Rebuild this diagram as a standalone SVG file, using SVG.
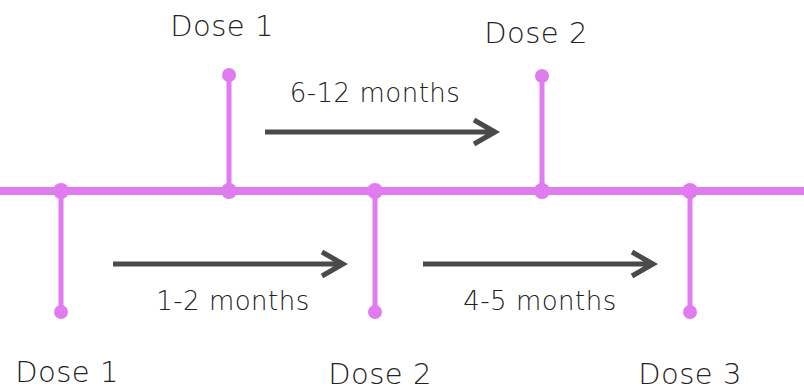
<svg xmlns="http://www.w3.org/2000/svg" width="804" height="391" viewBox="0 0 804 391">
<style>
.tl{stroke:#E07BF0;stroke-linecap:butt;fill:none}
.dot{fill:#E07BF0}
.arr{stroke:#4A4A4A;stroke-width:5;fill:none;stroke-linecap:butt;stroke-linejoin:miter}
.lbl{font-family:"DejaVu Sans","Open Sans",sans-serif;font-weight:200;fill:#222;text-anchor:middle;letter-spacing:0.5px}
.dose{font-size:29px}
.dur{font-size:26px}
</style>
<rect width="804" height="391" fill="#fff"/>
<g id="timeline">
<line class="tl" x1="0" y1="191" x2="804" y2="191" stroke-width="8"/>
</g>
<g id="dose1-top">
<line class="tl" x1="229" y1="75" x2="229" y2="191" stroke-width="5"/>
<circle class="dot" cx="229" cy="75" r="7"/><circle class="dot" cx="229" cy="191" r="8"/>
<text class="lbl dose" x="222" y="36">Dose 1</text>
</g>
<g id="dose2-top">
<line class="tl" x1="542" y1="76" x2="542" y2="191" stroke-width="5"/>
<circle class="dot" cx="542" cy="76" r="7"/><circle class="dot" cx="542" cy="191" r="8"/>
<text class="lbl dose" x="536" y="43">Dose 2</text>
</g>
<g id="dose1-bottom">
<line class="tl" x1="61" y1="191" x2="61" y2="312" stroke-width="5"/>
<circle class="dot" cx="61" cy="312" r="7"/><circle class="dot" cx="61" cy="191" r="8"/>
<text class="lbl dose" x="67" y="382">Dose 1</text>
</g>
<g id="dose2-bottom">
<line class="tl" x1="375" y1="191" x2="375" y2="312" stroke-width="5"/>
<circle class="dot" cx="375" cy="312" r="7"/><circle class="dot" cx="375" cy="191" r="8"/>
<text class="lbl dose" x="380" y="384">Dose 2</text>
</g>
<g id="dose3-bottom">
<line class="tl" x1="690" y1="191" x2="690" y2="312" stroke-width="5"/>
<circle class="dot" cx="690" cy="312" r="7"/><circle class="dot" cx="690" cy="191" r="8"/>
<text class="lbl dose" x="690" y="384">Dose 3</text>
</g>
<g id="connectors">
<path class="arr" d="M265 132 H495 M474 120 L495 132 L474 144"/>
<path class="arr" d="M113 264 H343 M322 252 L343 264 L322 276"/>
<path class="arr" d="M423 264 H653 M632 252 L653 264 L632 276"/>
<text class="lbl dur" x="375" y="102">6-12  months</text>
<text class="lbl dur" x="233" y="310">1-2 months</text>
<text class="lbl dur" x="540" y="310">4-5 months</text>
</g>
</svg>
